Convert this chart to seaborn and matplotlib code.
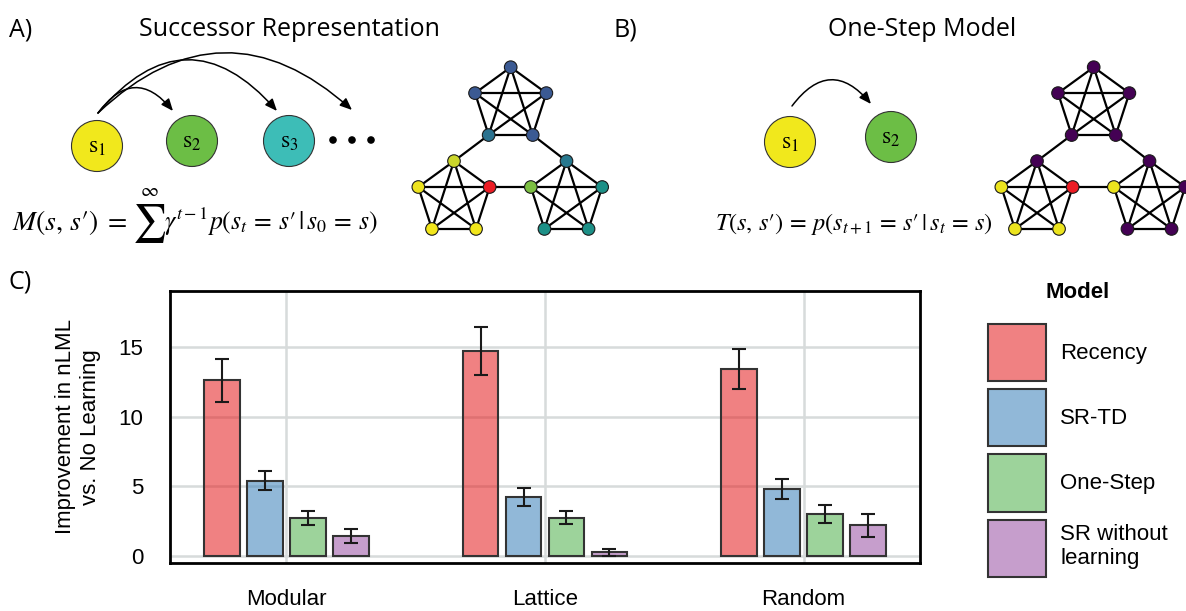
import matplotlib
matplotlib.use("Agg")
import matplotlib.pyplot as plt
import matplotlib.colors as mcolors
from matplotlib.patches import Circle, FancyArrowPatch
import numpy as np
import pandas as pd
import seaborn as sns

# ---- panel C data ----
environments = ["Modular", "Lattice", "Random"]
models = ["Recency", "SR-TD", "One-Step", "SR without learning"]
legend_labels = ["Recency", "SR-TD", "One-Step", "SR without\nlearning"]

recency = [12.6, 14.7, 13.4]
recency_err = [1.55, 1.7, 1.43]
sr_td = [5.4, 4.25, 4.8]
sr_td_err = [0.7, 0.65, 0.72]
one_step = [2.7, 2.75, 3.0]
one_step_err = [0.5, 0.45, 0.63]
sr_no_learning = [1.45, 0.27, 2.2]
sr_no_learning_err = [0.5, 0.24, 0.83]

yticks = [0, 5, 10, 15]
model_colours = sns.color_palette("Set1", 4)

# ---- panel A/B diagram colours (top, left, right module; 5 nodes each) ----
sr_node_colours = [
    ["#3b5a93", "#3b5a93", "#2a728f", "#3b5a93", "#3b5a93"],
    ["#cbd62b", "#ede31e", "#f2e61b", "#f2e61b", "#ec1c24"],
    ["#27788e", "#7cbf42", "#1d9087", "#1d9087", "#1d9087"],
]
onestep_node_colours = [
    ["#440154", "#440154", "#440154", "#440154", "#440154"],
    ["#440154", "#ece41e", "#ece41e", "#ece41e", "#ec1c24"],
    ["#440154", "#ece41e", "#440154", "#440154", "#440154"],
]
sr_state_colours = ["#f1e81c", "#6cbe45", "#3dbdb7"]
onestep_state_colours = ["#f1e81c", "#6cbe45"]


def pentagon(cx, cy, r=37.5):
    angles = np.radians([90, 162, 234, 306, 18])
    return [(cx + r * np.cos(a), cy - r * np.sin(a)) for a in angles]


def draw_graph(ax, dx, colours):
    modules = [pentagon(510.7 + dx, 104.7), pentagon(454 + dx, 198.6),
               pentagon(566.5 + dx, 198.6)]
    edges = []
    for pts in modules:
        for i in range(5):
            for j in range(i + 1, 5):
                edges.append((pts[i], pts[j]))
    edges += [(modules[0][2], modules[1][0]), (modules[0][3], modules[2][0]),
              (modules[1][4], modules[2][1])]
    for a, b in edges:
        ax.plot([a[0], b[0]], [a[1], b[1]], color="black", lw=1.6, zorder=1)
    for pts, cols in zip(modules, colours):
        for p, c in zip(pts, cols):
            ax.add_patch(Circle(p, 6.3, fc=c, ec="#1a1a1a", lw=0.8, zorder=3))


def draw_states(ax, centres, colours):
    for k, (c, col) in enumerate(zip(centres, colours)):
        ax.add_patch(Circle(c, 25.5, fc=col, ec="#333333", lw=0.8))
        ax.text(c[0], c[1] + 1, r"$\mathrm{s}_{%d}$" % (k + 1), fontsize=17,
                ha="center", va="center")


def arc(ax, start, end, rad):
    ax.add_patch(FancyArrowPatch(start, end, connectionstyle="arc3,rad=%s" % rad,
                                 arrowstyle="-|>,head_length=0.6,head_width=0.25",
                                 mutation_scale=12, lw=1.1, color="black",
                                 shrinkA=0, shrinkB=0))


sns.set_style("white")
plt.rcParams["font.family"] = ["Liberation Sans", "DejaVu Sans"]
plt.rcParams["mathtext.fontset"] = "stix"
for key in ["text.color", "axes.labelcolor", "xtick.color", "ytick.color"]:
    plt.rcParams[key] = "black"

fig = plt.figure(figsize=(11.86, 6.11), dpi=100)

# ---- panels A and B drawn in pixel coordinates ----
ad = fig.add_axes([0, 0, 1, 1])
ad.set_xlim(0, 1186)
ad.set_ylim(611, 0)
ad.axis("off")

title_font = dict(family="Open Sans", fontsize=18)
ad.text(9, 30, "A)", ha="left", va="center", **title_font)
ad.text(614, 30, "B)", ha="left", va="center", **title_font)
ad.text(9, 282, "C)", ha="left", va="center", **title_font)
ad.text(289, 30, "Successor Representation", ha="center", va="center", **title_font)
ad.text(922, 30, "One-Step Model", ha="center", va="center", **title_font)

draw_states(ad, [(97, 146), (192, 141), (289, 141)], sr_state_colours)
for x in [333, 352, 371]:
    ad.add_patch(Circle((x, 140), 4.5, fc="black"))
arc(ad, (98, 113), (173, 111), -0.64)
arc(ad, (98, 113), (277, 111), -0.58)
arc(ad, (98, 113), (352, 110), -0.46)

# M(s,s') = sum gamma^(t-1) p(...), with a large summation sign
ad.text(12, 230, r"$M(s,\,s\prime)\;=$", fontsize=20, ha="left", va="baseline")
ad.text(149, 224, r"$\sum$", fontsize=27, ha="center", va="center")
ad.text(149, 191, r"$\infty$", fontsize=14, ha="center", va="center")
ad.text(164, 230, r"$\gamma^{t-1}p(s_t\,=\,s\prime\,|\,s_0\,=\,s)$",
        fontsize=18.5, ha="left", va="baseline")
draw_graph(ad, 0, sr_node_colours)

draw_states(ad, [(790, 142), (891, 137)], onestep_state_colours)
arc(ad, (792, 106), (871, 104), -0.63)
ad.text(854, 230, r"$T(s,\,s\prime)\,=\,p(s_{t+1}\,=\,s\prime\,|\,s_t\,=\,s)$",
        fontsize=17.5, ha="center", va="baseline")
draw_graph(ad, 583, onestep_node_colours)

# ---- panel C: bar chart ----
df = pd.DataFrame({
    "environment": environments * 4,
    "model": np.repeat(models, 3),
    "improvement": recency + sr_td + one_step + sr_no_learning,
})
errors = [recency_err, sr_td_err, one_step_err, sr_no_learning_err]

ax = fig.add_axes([170 / 1186, 48 / 611, 750 / 1186, 272 / 611])
ax.set_axisbelow(True)
sns.barplot(data=df, x="environment", y="improvement", hue="model",
            order=environments, hue_order=models, palette=model_colours,
            saturation=1, width=0.665, gap=0.17, errorbar=None,
            edgecolor="#333333", linewidth=1.5, legend=False, ax=ax)

bar_groups = list(ax.containers)
for container, errs in zip(bar_groups, errors):
    for bar, err in zip(container, errs):
        bar.set_facecolor(mcolors.to_rgba(bar.get_facecolor(), 0.55))
        ax.errorbar(bar.get_x() + bar.get_width() / 2, bar.get_height(),
                    yerr=err, color="#1a1a1a", lw=1.5, capsize=5,
                    capthick=1.5, zorder=4)

ax.grid(True, color="#d7dbdb", lw=1.8)
ax.set_xlim(-0.45, 2.45)
ax.set_ylim(-0.5, 19)
ax.set_yticks(yticks)
ax.set_xlabel("")
ax.set_ylabel("Improvement in nLML\nvs. No Learning", fontsize=16, labelpad=13)
ax.tick_params(direction="out", length=11, width=2, pad=8, labelsize=16,
               color="black")
for s in ax.spines.values():
    s.set_linewidth(2)
    s.set_color("black")

handles = [c.patches[0] for c in bar_groups]
leg = fig.legend(handles, legend_labels, loc="upper left",
                 bbox_to_anchor=(977 / 1186, 1 - 313 / 611), frameon=False,
                 fontsize=16, handlelength=2.6, handleheight=3.58,
                 handletextpad=0.65, labelspacing=0.36, borderpad=0)
fig.text(1078 / 1186, 1 - 292 / 611, "Model", fontsize=16, fontweight="bold",
         ha="center", va="center")

fig.savefig("out.png", dpi=100)
